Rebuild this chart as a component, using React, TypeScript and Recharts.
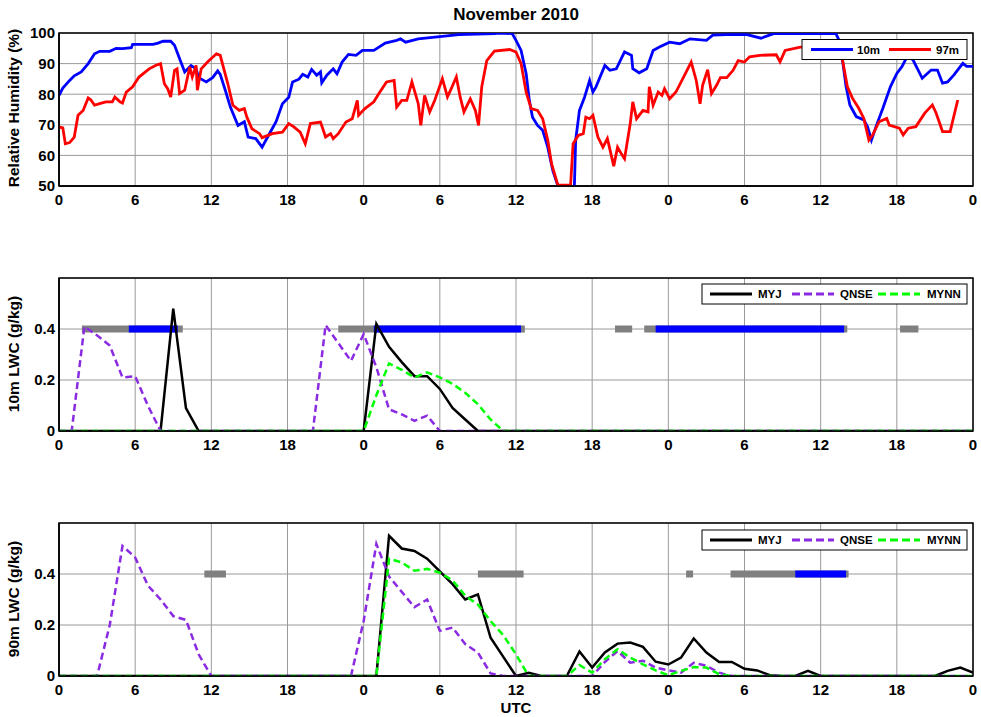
import { LineChart, Line, XAxis, YAxis, CartesianGrid, ReferenceArea } from "recharts";

const FONT = '"Liberation Sans", Arial, Helvetica, sans-serif';

// x axis: hours since 00 UTC on the first day
const hourTicks = [0, 6, 12, 18, 24, 30, 36, 42, 48, 54, 60, 66, 72];
const rhTicks = [50, 60, 70, 80, 90, 100];
const lwcTicks = [0, 0.2, 0.4];
const FOG_LEVEL = 0.4;

// observed relative humidity [hour, %]
const rh10m: [number, number][] = [
  [0, 79.6], [0.3, 82], [0.84, 84.5], [1.2, 86], [1.75, 87.3], [2.3, 90], [2.8, 93.2], [3.2, 94], [4, 94],
  [4.5, 95], [5, 94.9], [5.7, 95.2], [5.8, 96.3], [7.4, 96.3], [7.8, 96.7], [8.2, 97.3], [8.8, 97.3], [9.1, 96],
  [9.6, 90.5], [9.9, 87.3], [10.4, 89.4], [10.8, 88.3], [11, 85.4], [11.6, 84], [12.1, 85.4], [12.5, 87.6],
  [12.7, 86.5], [13.1, 81.3], [13.5, 75.8], [14.1, 69.8], [14.6, 71], [14.9, 66], [15.5, 65.5], [16, 62.7],
  [16.5, 66.5], [17.1, 71], [17.6, 76.9], [18.1, 79], [18.4, 84], [18.9, 84.9], [19.2, 86.5], [19.6, 85.6],
  [19.9, 88.1], [20.3, 86.2], [20.6, 87.3], [20.7, 83.7], [21.1, 86.2], [21.6, 88.3], [21.9, 86.7], [22.3, 90.5],
  [22.8, 93], [23.4, 92.7], [23.9, 94.3], [24.8, 94.3], [25.7, 96.7], [26.6, 97.6], [26.9, 98.1], [27.3, 97],
  [28.3, 98.1], [31.5, 99.5], [34.3, 99.8], [34.7, 100], [35.7, 99.8], [36, 97.6], [36.4, 94.3], [36.8, 86.7],
  [37.05, 78], [37.3, 72.5], [37.7, 69.8], [38.1, 68.2], [38.5, 62.7], [38.9, 55], [39.3, 50], [39.6, 47],
  [40.4, 47], [40.6, 50], [40.7, 65], [41, 74.7], [41.4, 79], [41.8, 84.5], [42.06, 80.7], [42.3, 82.4],
  [43, 89.4], [43.4, 87.8], [43.9, 88.3], [44.55, 93.8], [45.1, 92.7], [45.2, 88.3], [45.7, 87], [46.3, 88.3],
  [46.8, 94.3], [47.3, 95.4], [48.1, 97], [48.9, 96.5], [49.7, 98.1], [51, 97.6], [51.5, 99.3], [52.6, 99.5],
  [54.2, 99.5], [55.3, 98.3], [56.3, 99.8], [61.2, 99.8], [61.5, 97.2], [61.7, 91.7], [62, 82.5], [62.3, 76.5],
  [62.8, 72.7], [63.4, 71.6], [63.7, 69.3], [64, 65], [64.4, 69.9], [64.9, 75.4], [65.5, 82.5], [66, 86.8],
  [66.4, 89], [66.9, 93], [67.3, 91], [67.6, 88.5], [68, 85.2], [68.7, 87.9], [69.2, 87.9], [69.6, 83.6],
  [70, 84], [70.5, 86.3], [71.2, 90.1], [71.5, 89.1], [72, 89.1],
];

const rh97m: [number, number][] = [
  [0, 69.3], [0.3, 69], [0.5, 63.8], [0.84, 64.2], [1.2, 66], [1.5, 73.1], [1.9, 74.7], [2.3, 78.8], [2.5, 78.2],
  [2.8, 76.4], [3.2, 76.9], [3.7, 77.5], [4.2, 77.5], [4.4, 79.1], [4.8, 77.5], [5, 77.1], [5.3, 80.7], [5.8, 82.4],
  [6.3, 85.6], [7.1, 88.3], [7.6, 89.4], [8, 90], [8.3, 83.4], [8.56, 81.8], [8.8, 79.1], [9.1, 87.8], [9.3, 88.3],
  [9.5, 80.2], [9.9, 81.3], [10.3, 88.9], [10.5, 85.6], [10.8, 89.4], [10.9, 81.3], [11.2, 88.3], [11.7, 90.5],
  [12.4, 93.2], [12.7, 92.7], [13.3, 83.4], [13.7, 76.4], [14.2, 74.7], [14.6, 75.3], [14.8, 72.5], [15.2, 68.7],
  [15.8, 67.1], [16, 65.8], [16.8, 67.1], [17.6, 67.6], [18.1, 70.4], [18.5, 69.3], [19, 67.6], [19.4, 63.8],
  [19.8, 70.4], [20.6, 70.9], [21, 66], [21.4, 67.1], [21.6, 65.5], [22, 67.1], [22.6, 70.9], [23.1, 72], [23.5, 78],
  [23.6, 73.1], [24.1, 75.3], [24.8, 77.5], [25.2, 80.2], [25.8, 84], [26.4, 84.5], [26.6, 75.8], [27, 78],
  [27.4, 78], [27.8, 84], [28.3, 76.9], [28.5, 69.8], [28.8, 79.6], [29.2, 74.2], [29.6, 78], [30.2, 85.1],
  [30.6, 79.1], [30.9, 81.8], [31.3, 85.6], [31.6, 79.1], [31.9, 74.2], [32.4, 78.5], [32.8, 74.7], [33.05, 69.8],
  [33.3, 82.4], [33.7, 91], [34.3, 94.1], [35.5, 94.6], [36, 93.8], [36.4, 90], [36.8, 80.7], [37.2, 75.3],
  [37.7, 74.7], [38.1, 72], [38.5, 65], [38.8, 57.3], [39.3, 50.3], [40.3, 50.3], [40.5, 63.8], [40.9, 66.5],
  [41.3, 67.1], [41.5, 72.5], [41.8, 72], [42.06, 73.1], [42.45, 66], [42.85, 62.7], [43.2, 65.5], [43.7, 56.5],
  [44, 62.7], [44.3, 60.5], [44.55, 58.9], [45, 70.4], [45.2, 77.5], [45.5, 72], [46, 74.7], [46.4, 74.2],
  [46.5, 82.4], [46.8, 76.4], [47.2, 80.7], [47.5, 79.6], [47.7, 81.8], [48.1, 78.5], [48.6, 80.7], [49.2, 85.6],
  [49.8, 90.5], [50.2, 84.5], [50.5, 76.9], [50.7, 82.9], [51.1, 88], [51.4, 80.2], [51.8, 82.9], [52.1, 85.4],
  [52.6, 85.4], [53.1, 87.8], [53.5, 91], [54, 90.5], [54.4, 92.2], [55.2, 92.7], [56.5, 92.9], [56.8, 90.6],
  [57.2, 94.3], [58.4, 95.4], [61.3, 95.4], [61.7, 91.7], [62.1, 82.5], [62.5, 78.7], [63, 75.4], [63.4, 72.1],
  [63.8, 65], [64.1, 66.7], [64.6, 71], [65.2, 72.1], [65.4, 69.9], [66.2, 68.9], [66.5, 66.7], [66.9, 68.9],
  [67.5, 69.4], [68.2, 73.8], [68.8, 76.5], [69.1, 73.8], [69.6, 67.8], [70.2, 67.8], [70.8, 78.1],
];

// hourly model output, hours 0..72 (g/kg)
const lwcHours = [
  0, 1, 2, 3, 4, 5, 6, 7, 8, 9, 10, 11, 12, 13, 14, 15, 16, 17, 18, 19, 20, 21, 22, 23, 24,
  25, 26, 27, 28, 29, 30, 31, 32, 33, 34, 35, 36, 37, 38, 39, 40, 41, 42, 43, 44, 45, 46, 47, 48,
  49, 50, 51, 52, 53, 54, 55, 56, 57, 58, 59, 60, 61, 62, 63, 64, 65, 66, 67, 68, 69, 70, 71, 72,
];

const myj10 = [
  0, 0, 0, 0, 0, 0, 0, 0, 0, 0.48, 0.09, 0, 0, 0, 0, 0, 0, 0, 0, 0, 0, 0, 0, 0, 0,
  0.42, 0.33, 0.27, 0.215, 0.215, 0.165, 0.09, 0.045, 0, 0, 0, 0, 0, 0, 0, 0, 0, 0, 0, 0, 0, 0, 0, 0,
  0, 0, 0, 0, 0, 0, 0, 0, 0, 0, 0, 0, 0, 0, 0, 0, 0, 0, 0, 0, 0, 0, 0, 0,
];
const qnse10 = [
  0, 0, 0.41, 0.375, 0.335, 0.21, 0.215, 0.1, 0, 0, 0, 0, 0, 0, 0, 0, 0, 0, 0, 0, 0, 0.415, 0.345, 0.275, 0.38,
  0.25, 0.085, 0.065, 0.04, 0.06, 0, 0, 0, 0, 0, 0, 0, 0, 0, 0, 0, 0, 0, 0, 0, 0, 0, 0, 0,
  0, 0, 0, 0, 0, 0, 0, 0, 0, 0, 0, 0, 0, 0, 0, 0, 0, 0, 0, 0, 0, 0, 0, 0,
];
const mynn10 = [
  0, 0, 0, 0, 0, 0, 0, 0, 0, 0, 0, 0, 0, 0, 0, 0, 0, 0, 0, 0, 0, 0, 0, 0, 0,
  0.14, 0.265, 0.24, 0.21, 0.23, 0.21, 0.185, 0.15, 0.105, 0.045, 0, 0, 0, 0, 0, 0, 0, 0, 0, 0, 0, 0, 0, 0,
  0, 0, 0, 0, 0, 0, 0, 0, 0, 0, 0, 0, 0, 0, 0, 0, 0, 0, 0, 0, 0, 0, 0, 0,
];

const myj90 = [
  0, 0, 0, 0, 0, 0, 0, 0, 0, 0, 0, 0, 0, 0, 0, 0, 0, 0, 0, 0, 0, 0, 0, 0, 0,
  0, 0.55, 0.5, 0.49, 0.46, 0.41, 0.36, 0.3, 0.32, 0.15, 0.075, 0, 0.013, 0, 0, 0, 0.096, 0.033, 0.092, 0.127, 0.131, 0.114, 0.056, 0.045,
  0.072, 0.147, 0.092, 0.055, 0.055, 0.028, 0.022, 0.003, 0, 0, 0.02, 0, 0, 0, 0, 0, 0, 0, 0, 0, 0, 0.02, 0.033, 0.013,
];
const qnse90 = [
  0, 0, 0, 0, 0.2, 0.51, 0.465, 0.355, 0.3, 0.235, 0.22, 0.085, 0, 0, 0, 0, 0, 0, 0, 0, 0, 0, 0, 0, 0.216,
  0.518, 0.39, 0.33, 0.27, 0.3, 0.177, 0.19, 0.125, 0.092, 0.01, 0, 0, 0, 0, 0, 0, 0, 0, 0.055, 0.098, 0.052, 0.06, 0.033, 0.022,
  0.013, 0.052, 0.04, 0.013, 0, 0, 0, 0, 0, 0, 0, 0, 0, 0, 0, 0, 0, 0, 0, 0, 0, 0, 0, 0, 0,
];
const mynn90 = [
  0, 0, 0, 0, 0, 0, 0, 0, 0, 0, 0, 0, 0, 0, 0, 0, 0, 0, 0, 0, 0, 0, 0, 0, 0,
  0, 0.46, 0.445, 0.413, 0.42, 0.405, 0.375, 0.315, 0.28, 0.215, 0.16, 0.085, 0, 0, 0, 0, 0.043, 0.013, 0.066, 0.105, 0.072, 0.046, 0.022, 0.003,
  0.02, 0.035, 0.033, 0.007, 0, 0, 0, 0, 0, 0, 0, 0, 0, 0, 0, 0, 0, 0, 0, 0, 0, 0, 0, 0,
];

// observed fog periods [start hour, end hour]
const fogGrey10: [number, number][] = [[1.8, 9.75], [22, 36.7], [43.8, 45.15], [46.1, 62.1], [66.25, 67.7]];
const fogBlue10: [number, number][] = [[5.5, 9.35], [24.8, 36.4], [47, 61.85]];
const fogGrey90: [number, number][] = [[11.45, 13.15], [33, 36.6], [49.4, 49.95], [52.9, 62.2]];
const fogBlue90: [number, number][] = [[58, 62]];

const C = { blue: "#0000ff", red: "#ff0000", black: "#000000", purple: "#8a2be2", green: "#00ff00", grey: "#808080" };

const toPoints = (pairs: [number, number][]) => pairs.map(([t, v]) => ({ t, v }));
const hourly = (vals: number[]) => vals.map((v, i) => ({ t: lwcHours[i], v }));
const segment = ([a, b]: [number, number]) => [{ t: a, v: FOG_LEVEL }, { t: b, v: FOG_LEVEL }];

const W = 981;
const CH = 216;
const margin = { top: 33, right: 8, bottom: 5, left: 0 };
const tickStyle = { fontSize: 15, fontWeight: "bold", fill: "#000", fontFamily: FONT };
const hourLabel = (h: number) => String(h % 24);

function xAxis() {
  return (
    <XAxis key="x" type="number" dataKey="t" domain={[0, 72]} ticks={hourTicks} tickFormatter={hourLabel}
      tick={tickStyle} tickLine={false} tickSize={6} tickMargin={2} height={25}
      axisLine={{ stroke: "#000", strokeWidth: 1.5 }} allowDataOverflow />
  );
}

function lwcLines(myj: number[], qnse: number[], mynn: number[], grey: [number, number][], blue: [number, number][]) {
  return [
    ...grey.map((s, i) => (
      <Line key={`g${i}`} data={segment(s)} dataKey="v" stroke={C.grey} strokeWidth={7} dot={false} isAnimationActive={false} />
    )),
    ...blue.map((s, i) => (
      <Line key={`b${i}`} data={segment(s)} dataKey="v" stroke={C.blue} strokeWidth={7} dot={false} isAnimationActive={false} />
    )),
    <Line key="myj" data={hourly(myj)} dataKey="v" stroke={C.black} strokeWidth={2.5} dot={false} isAnimationActive={false} />,
    <Line key="qnse" data={hourly(qnse)} dataKey="v" stroke={C.purple} strokeWidth={2.5} strokeDasharray="7 4" dot={false} isAnimationActive={false} />,
    <Line key="mynn" data={hourly(mynn)} dataKey="v" stroke={C.green} strokeWidth={2.5} strokeDasharray="7 4" dot={false} isAnimationActive={false} />,
  ];
}

function LwcChart({ myj, qnse, mynn, grey, blue }: { myj: number[]; qnse: number[]; mynn: number[]; grey: [number, number][]; blue: [number, number][] }) {
  return (
    <LineChart width={W} height={CH} margin={margin}>
      <CartesianGrid stroke="#9a9a9a" strokeWidth={1} />
      {xAxis()}
      <YAxis type="number" domain={[0, 0.6]} ticks={lwcTicks} tick={tickStyle} tickLine={false} tickSize={3}
        tickMargin={1} width={59} axisLine={{ stroke: "#000", strokeWidth: 1.5 }} allowDataOverflow />
      {lwcLines(myj, qnse, mynn, grey, blue)}
      <ReferenceArea x1={0} x2={72} y1={0} y2={0.6} fill="none" stroke="#000" strokeWidth={1.5} />
    </LineChart>
  );
}

function LegendLine({ x, y, color, dash }: { x: number; y: number; color: string; dash?: string }) {
  return <line x1={x} x2={x + 42} y1={y} y2={y} stroke={color} strokeWidth={3} strokeDasharray={dash} />;
}

const legendText = { fontSize: 11.5, fontWeight: "bold" as const, fontFamily: FONT, fill: "#000" };

function ModelLegend({ y }: { y: number }) {
  return (
    <g>
      <rect x={702} y={y} width={265} height={20} fill="#fff" stroke="#000" strokeWidth={1} />
      <LegendLine x={710} y={y + 10} color={C.black} />
      <text x={758} y={y + 14} {...legendText}>MYJ</text>
      <LegendLine x={792} y={y + 10} color={C.purple} dash="8 4" />
      <text x={840} y={y + 14} {...legendText}>QNSE</text>
      <LegendLine x={878} y={y + 10} color={C.green} dash="8 4" />
      <text x={927} y={y + 14} {...legendText}>MYNN</text>
    </g>
  );
}

export default function App() {
  const yLabel = { fontSize: 15.5, fontWeight: "bold" as const, fontFamily: FONT, fill: "#000", textAnchor: "middle" as const };
  return (
    <div style={{ position: "absolute", left: 0, top: 0, width: W, height: 717, background: "#fff" }}>
      <div style={{ position: "absolute", left: 0, top: 0 }}>
        <LineChart width={W} height={CH} margin={margin}>
          <CartesianGrid stroke="#9a9a9a" strokeWidth={1} />
          {xAxis()}
          <YAxis type="number" domain={[50, 100]} ticks={rhTicks} tick={tickStyle} tickLine={false} tickSize={3}
            tickMargin={1} width={59} axisLine={{ stroke: "#000", strokeWidth: 1.5 }} allowDataOverflow />
          <Line data={toPoints(rh10m)} dataKey="v" name="10m" stroke={C.blue} strokeWidth={2.8} dot={false} isAnimationActive={false} />
          <Line data={toPoints(rh97m)} dataKey="v" name="97m" stroke={C.red} strokeWidth={2.8} dot={false} isAnimationActive={false} />
          <ReferenceArea x1={0} x2={72} y1={50} y2={100} fill="none" stroke="#000" strokeWidth={1.5} />
        </LineChart>
      </div>
      <div style={{ position: "absolute", left: 0, top: 245 }}>
        <LwcChart myj={myj10} qnse={qnse10} mynn={mynn10} grey={fogGrey10} blue={fogBlue10} />
      </div>
      <div style={{ position: "absolute", left: 0, top: 490 }}>
        <LwcChart myj={myj90} qnse={qnse90} mynn={mynn90} grey={fogGrey90} blue={fogBlue90} />
      </div>
      <svg width={W} height={717} style={{ position: "absolute", left: 0, top: 0, pointerEvents: "none" }}>
        <text x={516} y={20} textAnchor="middle" fontSize={17} fontWeight="bold" fontFamily={FONT}>November 2010</text>
        <text transform="translate(19,108) rotate(-90)" {...yLabel}>Relative Humidity (%)</text>
        <text transform="translate(19,354) rotate(-90)" {...yLabel}>10m LWC (g/kg)</text>
        <text transform="translate(19,599) rotate(-90)" {...yLabel}>90m LWC (g/kg)</text>
        <text x={516} y={713} textAnchor="middle" fontSize={15} fontWeight="bold" fontFamily={FONT}>UTC</text>

        <rect x={802} y={39.5} width={165} height={20} fill="#fff" stroke="#000" strokeWidth={1} />
        <LegendLine x={811} y={49.5} color={C.blue} />
        <text x={857} y={53.5} {...legendText}>10m</text>
        <LegendLine x={889} y={49.5} color={C.red} />
        <text x={936} y={53.5} {...legendText}>97m</text>

        <ModelLegend y={284} />
        <ModelLegend y={530} />
      </svg>
    </div>
  );
}
